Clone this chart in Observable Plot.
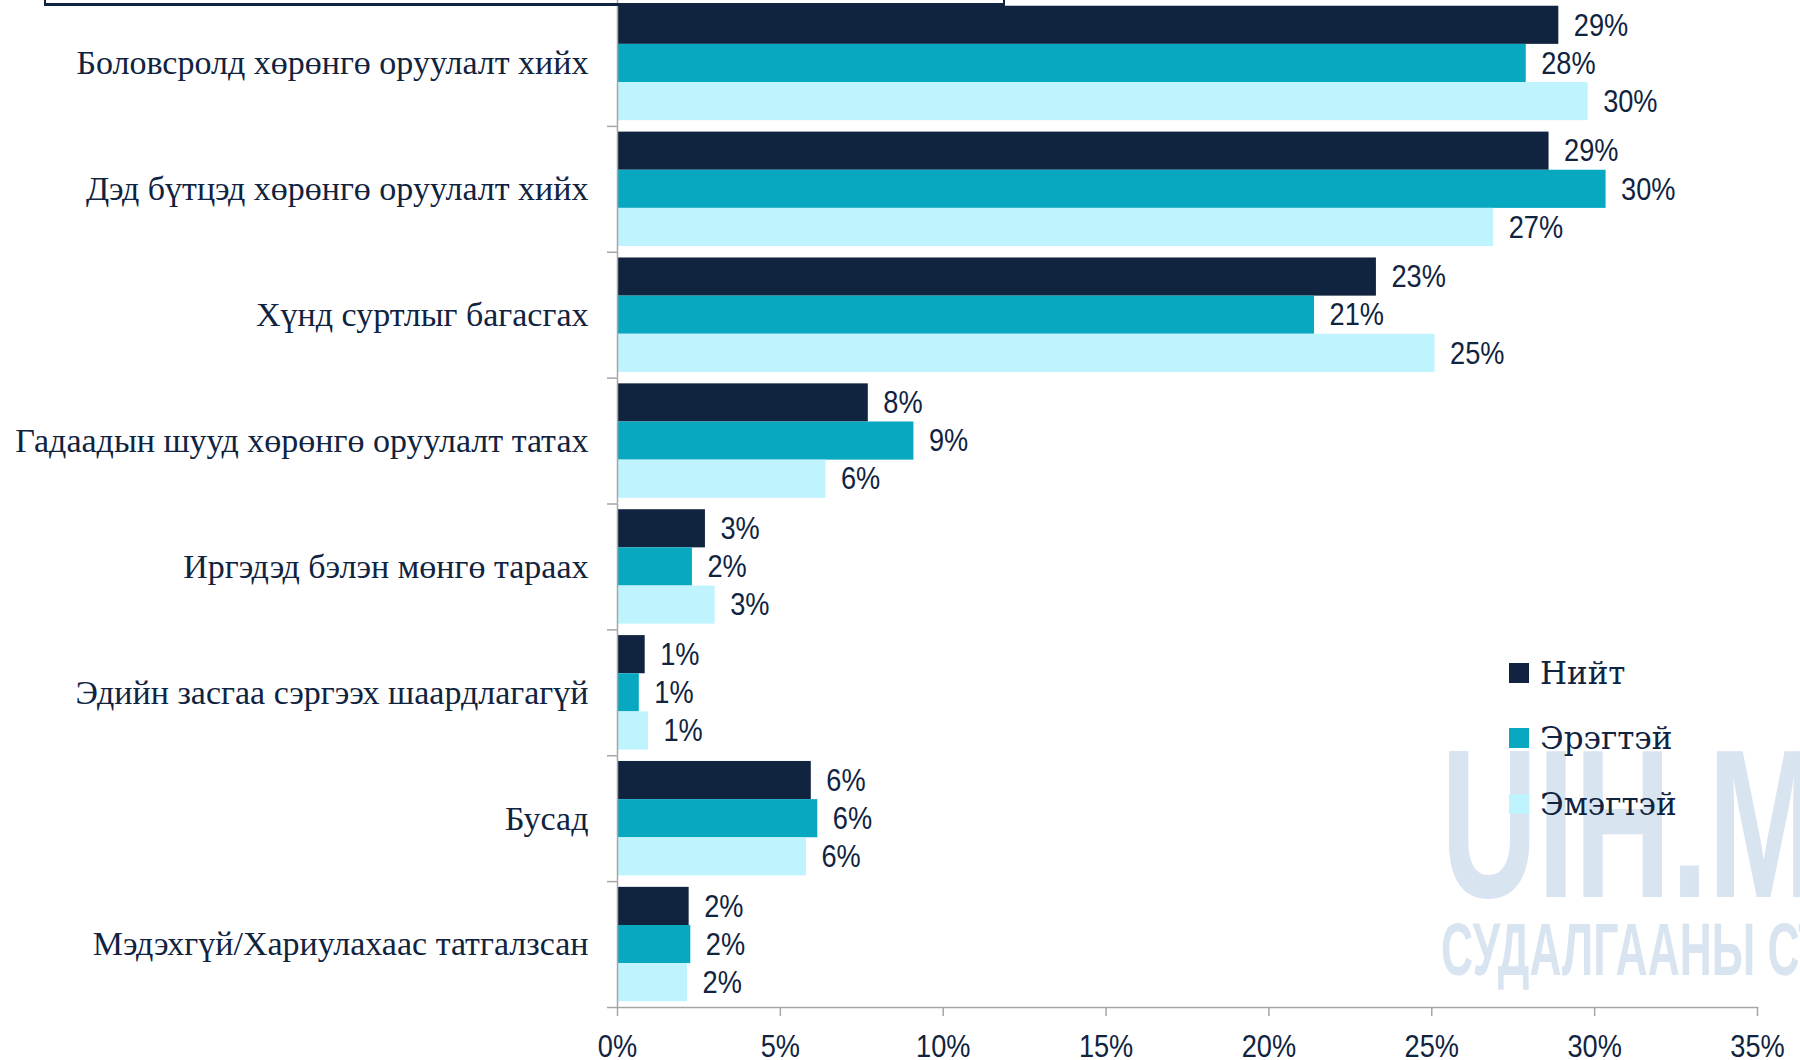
<!DOCTYPE html>
<html>
<head>
<meta charset="utf-8">
<script src="https://cdn.jsdelivr.net/npm/d3@7"></script>
<script src="https://cdn.jsdelivr.net/npm/@observablehq/plot@0.6"></script>
<style>
  html, body { margin: 0; padding: 0; background: #fff; }
  #wrap { position: relative; width: 1800px; height: 1060px; overflow: hidden; }
  #chart { position: absolute; left: 0; top: 0; z-index: 2; }
  .wm { position: absolute; z-index: 1; color: #d9e4f1; font-family: "Liberation Sans", sans-serif; font-weight: 700; white-space: nowrap; transform-origin: 0 0; line-height: 1; }
  #legend { position: absolute; z-index: 3; left: 1509px; top: 640px; font-family: "DejaVu Serif", serif; font-size: 31px; color: #10233f; }
  #legend .row { display: flex; align-items: center; height: 65.5px; }
  #legend .sw { width: 20px; height: 20px; margin-right: 11px; }
  #topbox { position: absolute; z-index: 3; left: 44px; top: -40px; width: 957px; height: 41px; border: 2px solid #10233f; border-bottom-width: 3px; }
</style>
</head>
<body>
<div id="wrap">
  <div id="topbox"></div>
  <div class="wm" id="wm1">UIH.MN</div>
  <div class="wm" id="wm2">СУДАЛГААНЫ СТӨВ</div>
  <div id="chart"></div>
  <div id="legend"></div>
</div>
<script>
const categories = [
  "Боловсролд хөрөнгө оруулалт хийх",
  "Дэд бүтцэд хөрөнгө оруулалт хийх",
  "Хүнд суртлыг багасгах",
  "Гадаадын шууд хөрөнгө оруулалт татах",
  "Иргэдэд бэлэн мөнгө тараах",
  "Эдийн засгаа сэргээх шаардлагагүй",
  "Бусад",
  "Мэдэхгүй/Хариулахаас татгалзсан"
];
const series = ["Нийт", "Эрэгтэй", "Эмэгтэй"];
const totalValues  = [28.9, 28.6, 23.3, 7.7, 2.7, 0.85, 5.95, 2.2];
const maleValues   = [27.9, 30.35, 21.4, 9.1, 2.3, 0.67, 6.15, 2.25];
const femaleValues = [29.8, 26.9, 25.1, 6.4, 3.0, 0.95, 5.8, 2.15];
const colors = ["#10233f", "#08a8c0", "#bff3fd"];
const xTicks = [0, 5, 10, 15, 20, 25, 30, 35];

const seriesValues = [totalValues, maleValues, femaleValues];
const data = [];
categories.forEach((c, i) => {
  series.forEach((s, j) => {
    const v = seriesValues[j][i];
    data.push({category: c, series: s, value: v, label: Math.round(v) + "%"});
  });
});

const W = 1800, H = 1060, mL = 617, mR = 43, mT = 0, mB = 53;
const band = (H - mT - mB) / categories.length;
const ink = "#10233f", axisGrey = "#a6a6a6";
const sans = "'Liberation Sans', Arial, sans-serif";

const plot = Plot.plot({
  width: W, height: H,
  marginLeft: mL, marginRight: mR, marginTop: mT, marginBottom: mB,
  style: {background: "transparent", color: ink, overflow: "visible"},
  x: {domain: [0, 35], axis: null},
  y: {domain: series, axis: null, paddingInner: 0, paddingOuter: 0.15, round: false},
  fy: {domain: categories, padding: 0, axis: null, round: false},
  color: {domain: series, range: colors},
  marks: [
    Plot.barX(data, {x: "value", y: "series", fy: "category", fill: "series"}),
    Plot.text(data, {x: "value", y: "series", fy: "category", text: "label",
      textAnchor: "start", dx: 15, fontSize: 32, fontFamily: sans, fill: ink, className: "vlabel"}),
    Plot.ruleX([0], {stroke: axisGrey, strokeWidth: 1.5}),
    Plot.axisFy({anchor: "left", tickSize: 0, tickPadding: 29, fontSize: 34,
      fontFamily: "'Liberation Serif', serif", label: null, fill: ink}),
    Plot.axisFy({anchor: "left", tickSize: 10, tickFormat: () => "", dy: band / 2,
      stroke: axisGrey, strokeWidth: 1.5, label: null}),
    Plot.axisX({anchor: "bottom", ticks: xTicks, tickSize: 9, tickPadding: 18,
      tickFormat: d => d + "%", fontSize: 32, fontFamily: sans, stroke: axisGrey,
      strokeWidth: 1.5, fill: ink, label: null}),
    Plot.frame({anchor: "bottom", facet: "super", stroke: axisGrey, strokeWidth: 1.5})
  ]
});
document.getElementById("chart").appendChild(plot);

// condense the sans-serif number labels (narrow face look)
const svg = d3.select(plot);
svg.selectAll('.vlabel text, g[aria-label="x-axis tick label"] text').each(function() {
  const len = this.getComputedTextLength();
  if (len > 0) {
    this.setAttribute("textLength", (len * 0.85).toFixed(1));
    this.setAttribute("lengthAdjust", "spacingAndGlyphs");
  }
});

const legend = document.getElementById("legend");
series.forEach((s, j) => {
  const row = document.createElement("div");
  row.className = "row";
  const sw = document.createElement("div");
  sw.className = "sw";
  sw.style.background = colors[j];
  const t = document.createElement("span");
  t.textContent = s;
  row.appendChild(sw); row.appendChild(t);
  legend.appendChild(row);
});

const wm1 = document.getElementById("wm1");
wm1.style.fontSize = "212px";
wm1.style.left = "1441px";
wm1.style.top = "718px";
wm1.style.transform = "scaleX(0.63)";
const wm2 = document.getElementById("wm2");
wm2.style.fontSize = "74px";
wm2.style.left = "1441px";
wm2.style.top = "913px";
wm2.style.transform = "scaleX(0.6)";
</script>
</body>
</html>
